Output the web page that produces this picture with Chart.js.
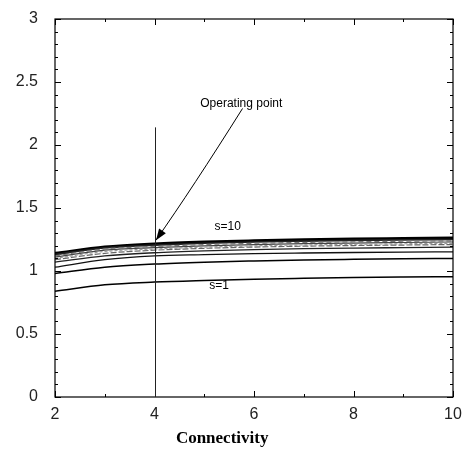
<!DOCTYPE html>
<html><head><meta charset="utf-8">
<script src="https://cdn.jsdelivr.net/npm/chart.js@4"></script>
<style>html,body{margin:0;padding:0;background:#fff}#c{display:block}</style>
</head><body>
<canvas id="c" width="465" height="449"></canvas>
<script>
const connectivity = [2, 3, 4, 5, 6, 7, 8, 9, 10];
const s1  = [0.84, 0.89, 0.912, 0.925, 0.935, 0.942, 0.948, 0.952, 0.955];
const s2  = [0.98, 1.03, 1.055, 1.07, 1.08, 1.088, 1.093, 1.097, 1.10];
const s3  = [1.03, 1.09, 1.12, 1.13, 1.138, 1.143, 1.147, 1.15, 1.152];
const s4  = [1.07, 1.12, 1.145, 1.16, 1.17, 1.177, 1.182, 1.186, 1.19];
const s5  = [1.09, 1.14, 1.165, 1.18, 1.19, 1.197, 1.202, 1.206, 1.21];
const s6  = [1.10, 1.155, 1.175, 1.19, 1.20, 1.207, 1.212, 1.216, 1.22];
const s7  = [1.11, 1.165, 1.185, 1.20, 1.21, 1.217, 1.222, 1.226, 1.23];
const s8  = [1.12, 1.175, 1.195, 1.21, 1.22, 1.227, 1.232, 1.236, 1.24];
const s9  = [1.13, 1.185, 1.205, 1.22, 1.23, 1.237, 1.243, 1.247, 1.25];
const s10 = [1.14, 1.19, 1.215, 1.23, 1.24, 1.248, 1.254, 1.258, 1.262];
const seriesNames = ['s=1','s=2','s=3','s=4','s=5','s=6','s=7','s=8','s=9','s=10'];
const seriesValues = [s1,s2,s3,s4,s5,s6,s7,s8,s9,s10];
const yTicks = [0, 0.5, 1, 1.5, 2, 2.5, 3];
const yTickLabels = ['0', '0.5', '1', '1.5', '2', '2.5', '3'];
const xTicks = [2, 4, 6, 8, 10];
const xTickLabels = ['2', '4', '6', '8', '10'];
const operatingX = 4;
const operatingLineTop = 2.14;

const styles = [
  {c:'#000', w:1.5}, {c:'#000', w:1.5}, {c:'#111', w:1.3}, {c:'#222', w:1.3},
  {c:'#666', w:1.2, d:[6,2]}, {c:'#999', w:1.2, d:[3,2]}, {c:'#444', w:1.2},
  {c:'#777', w:1.2, d:[5,3]}, {c:'#222', w:1.6}, {c:'#000', w:3}
];

const datasets = seriesValues.map((vals, i) => ({
  label: seriesNames[i],
  data: connectivity.map((x, j) => ({x, y: vals[j]})),
  borderColor: styles[i].c,
  borderWidth: styles[i].w,
  borderDash: styles[i].d || [],
  pointRadius: 0,
  fill: false,
  cubicInterpolationMode: 'monotone'
}));

const FONT = '"Liberation Sans", Arial, sans-serif';

const decor = {
  id: 'decor',
  afterDatasetsDraw(chart) {
    const ctx = chart.ctx, xs = chart.scales.x, ys = chart.scales.y, a = chart.chartArea;
    ctx.save();
    ctx.strokeStyle = '#000'; ctx.lineWidth = 1.2;
    ctx.strokeRect(a.left, a.top, a.right - a.left, a.bottom - a.top);
    ctx.lineWidth = 1;
    for (let v = 0; v <= 3.0001; v += 0.1) {
      const p = Math.round(ys.getPixelForValue(v)) + 0.5;
      const major = Math.abs(v * 2 - Math.round(v * 2)) < 1e-6;
      const L = major ? 6 : 3;
      ctx.beginPath(); ctx.moveTo(a.left, p); ctx.lineTo(a.left + L, p); ctx.stroke();
      ctx.beginPath(); ctx.moveTo(a.right, p); ctx.lineTo(a.right - L, p); ctx.stroke();
    }
    for (let v = 2; v <= 10; v += 1) {
      const p = Math.round(xs.getPixelForValue(v)) + 0.5;
      const L = (v % 2 === 0) ? 6 : 3;
      ctx.beginPath(); ctx.moveTo(p, a.bottom); ctx.lineTo(p, a.bottom - L); ctx.stroke();
      ctx.beginPath(); ctx.moveTo(p, a.top); ctx.lineTo(p, a.top + L); ctx.stroke();
    }
    const vx = Math.round(xs.getPixelForValue(operatingX)) + 0.5;
    ctx.strokeStyle = '#222'; ctx.lineWidth = 1;
    ctx.beginPath(); ctx.moveTo(vx, ys.getPixelForValue(0)); ctx.lineTo(vx, ys.getPixelForValue(operatingLineTop)); ctx.stroke();
    const x0 = xs.getPixelForValue(5.77), y0 = ys.getPixelForValue(2.29);
    const x1 = xs.getPixelForValue(4.03), y1 = ys.getPixelForValue(1.245);
    const cx = xs.getPixelForValue(4.75), cy = ys.getPixelForValue(1.65);
    ctx.strokeStyle = '#000'; ctx.lineWidth = 1;
    ctx.beginPath(); ctx.moveTo(x0, y0); ctx.quadraticCurveTo(cx, cy, x1, y1); ctx.stroke();
    const ang = Math.atan2(y1 - cy, x1 - cx);
    const hl = 12, hw = 0.35;
    ctx.fillStyle = '#000';
    ctx.beginPath();
    ctx.moveTo(x1, y1);
    ctx.lineTo(x1 - hl * Math.cos(ang - hw), y1 - hl * Math.sin(ang - hw));
    ctx.lineTo(x1 - hl * Math.cos(ang + hw), y1 - hl * Math.sin(ang + hw));
    ctx.closePath(); ctx.fill();
    ctx.fillStyle = '#000';
    ctx.font = '12px ' + FONT;
    ctx.textBaseline = 'middle'; ctx.textAlign = 'left';
    ctx.fillText('Operating point', xs.getPixelForValue(4.92), ys.getPixelForValue(2.33));
    ctx.textAlign = 'center';
    ctx.fillText('s=10', xs.getPixelForValue(5.47), ys.getPixelForValue(1.35));
    ctx.fillText('s=1', xs.getPixelForValue(5.3), ys.getPixelForValue(0.885));
    ctx.font = 'bold 17px "Liberation Serif", "Times New Roman", serif';
    ctx.textBaseline = 'middle'; ctx.textAlign = 'center';
    ctx.fillText('Connectivity', a.left + 0.42 * (a.right - a.left), 439);
    ctx.restore();
  }
};

new Chart(document.getElementById('c'), {
  type: 'line',
  data: { datasets },
  options: {
    responsive: false,
    animation: false,
    layout: { autoPadding: false, padding: { top: 19, right: 12, left: 0, bottom: 0 } },
    plugins: { legend: { display: false }, tooltip: { enabled: false } },
    scales: {
      x: {
        type: 'linear', min: 2, max: 10,
        afterBuildTicks: s => { s.ticks = xTicks.map(v => ({value: v})); },
        afterFit: s => { s.height = 52; s.paddingLeft = 0; s.paddingRight = 0; },
        grid: { display: false, drawTicks: false },
        border: { display: false },
        ticks: { color: '#222', font: { family: FONT, size: 16 }, padding: 8, maxRotation: 0,
                 callback: v => xTickLabels[xTicks.indexOf(v)] }
      },
      y: {
        type: 'linear', min: 0, max: 3,
        afterBuildTicks: s => { s.ticks = yTicks.map(v => ({value: v})); },
        afterFit: s => { s.width = 55; s.paddingTop = 0; s.paddingBottom = 0; },
        grid: { display: false, drawTicks: false },
        border: { display: false },
        ticks: { color: '#222', font: { family: FONT, size: 16 }, padding: 17,
                 callback: v => yTickLabels[yTicks.indexOf(v)] }
      }
    }
  },
  plugins: [decor]
});
</script>
</body></html>
